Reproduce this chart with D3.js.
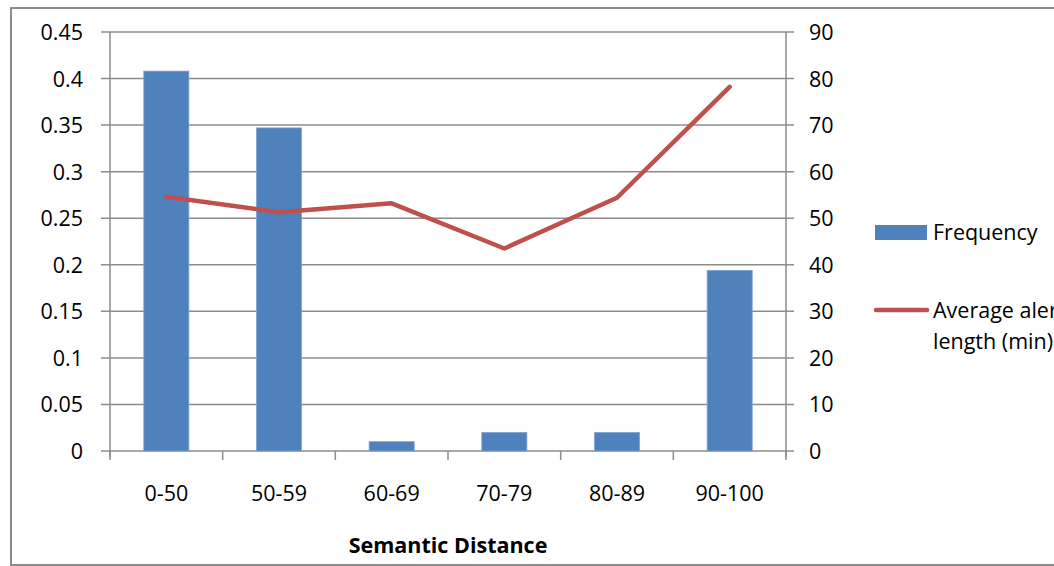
<!DOCTYPE html>
<html>
<head>
<meta charset="utf-8">
<script src="https://d3js.org/d3.v7.min.js"></script>
<style>
  body { margin: 0; background: #fff; overflow: hidden; }
  text { font-family: "Open Sans", "Noto Sans", sans-serif; fill: #000; font-size: 21.5px; }
</style>
</head>
<body>
<svg id="chart" width="1054" height="566"></svg>
<script>
// values
const categories = ['0-50', '50-59', '60-69', '70-79', '80-89', '90-100']
const frequency = [0.408, 0.347, 0.01, 0.02, 0.02, 0.194]
const avgLength = [54.6, 51.3, 53.2, 43.5, 54.4, 78.2]
const leftTicks = [0, 0.05, 0.1, 0.15, 0.2, 0.25, 0.3, 0.35, 0.4, 0.45]
const rightTicks = [0, 10, 20, 30, 40, 50, 60, 70, 80, 90]

const svg = d3.select('#chart')
const plotL = 110, plotR = 786, plotT = 32, plotB = 451
const gridColor = '#8c8c8c'

// outer frame
svg.append('rect')
    .attr('x', 11).attr('y', 8)
    .attr('width', 1100).attr('height', 557)
    .attr('fill', 'none').attr('stroke', gridColor).attr('stroke-width', 2)

let x = d3.scaleBand().domain(categories).range([plotL, plotR])
let yL = d3.scaleLinear().domain([0, 0.45]).range([plotB, plotT])
let yR = d3.scaleLinear().domain([0, 90]).range([plotB, plotT])

// gridlines
svg.append('g').selectAll('line')
    .data(leftTicks)
    .enter().append('line')
    .attr('x1', plotL - 9).attr('x2', plotR + 8)
    .attr('y1', d => yL(d)).attr('y2', d => yL(d))
    .attr('stroke', gridColor).attr('stroke-width', 1.5)

// left axis labels
svg.append('g').selectAll('text')
    .data(leftTicks)
    .enter().append('text')
    .attr('x', 83).attr('y', d => yL(d) + 8)
    .attr('text-anchor', 'end')
    .text(d => d)

// right axis labels
svg.append('g').selectAll('text')
    .data(rightTicks)
    .enter().append('text')
    .attr('x', 809).attr('y', d => yR(d) + 8)
    .text(d => d)

// axis lines
svg.append('line')
    .attr('x1', plotL).attr('x2', plotL).attr('y1', plotT).attr('y2', plotB + 6)
    .attr('stroke', gridColor).attr('stroke-width', 1.5)
svg.append('line')
    .attr('x1', plotR).attr('x2', plotR).attr('y1', plotT).attr('y2', plotB + 6)
    .attr('stroke', gridColor).attr('stroke-width', 1.5)

// category ticks
svg.append('g').selectAll('line')
    .data(categories.concat(['end']))
    .enter().append('line')
    .attr('x1', d => d == 'end' ? plotR : x(d))
    .attr('x2', d => d == 'end' ? plotR : x(d))
    .attr('y1', plotB).attr('y2', plotB + 9)
    .attr('stroke', gridColor).attr('stroke-width', 1.5)

// bars
let barW = x.bandwidth() * 0.4
svg.append('g').selectAll('rect')
    .data(frequency)
    .enter().append('rect')
    .attr('x', (d, i) => x(categories[i]) + x.bandwidth() / 2 - barW / 2)
    .attr('y', d => yL(d))
    .attr('width', barW)
    .attr('height', d => plotB - yL(d))
    .attr('fill', '#4f81bd')
    .attr('stroke', '#7fa3d2').attr('stroke-width', 0.8)

// line
let line = d3.line()
    .x((d, i) => x(categories[i]) + x.bandwidth() / 2)
    .y(d => yR(d))
svg.append('path')
    .datum(avgLength)
    .attr('d', line)
    .attr('fill', 'none')
    .attr('stroke', '#c0504d')
    .attr('stroke-width', 4.5)
    .attr('stroke-linecap', 'round')
    .attr('stroke-linejoin', 'round')

// category labels
svg.append('g').selectAll('text')
    .data(categories)
    .enter().append('text')
    .attr('x', d => x(d) + x.bandwidth() / 2)
    .attr('y', 501)
    .attr('text-anchor', 'middle')
    .text(d => d)

svg.append('text')
    .attr('x', (plotL + plotR) / 2).attr('y', 553)
    .attr('text-anchor', 'middle')
    .style('font-weight', 'bold')
    .text('Semantic Distance')

// legend
svg.append('rect')
    .attr('x', 875).attr('y', 225).attr('width', 52).attr('height', 15)
    .attr('fill', '#4f81bd')
svg.append('text')
    .attr('x', 933).attr('y', 240)
    .text('Frequency')

svg.append('line')
    .attr('x1', 876).attr('x2', 927).attr('y1', 310).attr('y2', 310)
    .attr('stroke', '#c0504d').attr('stroke-width', 4.5)
    .attr('stroke-linecap', 'round')
svg.append('text')
    .attr('x', 933).attr('y', 318)
    .text('Average alert')
svg.append('text')
    .attr('x', 933).attr('y', 349)
    .text('length (min)')
</script>
</body>
</html>
